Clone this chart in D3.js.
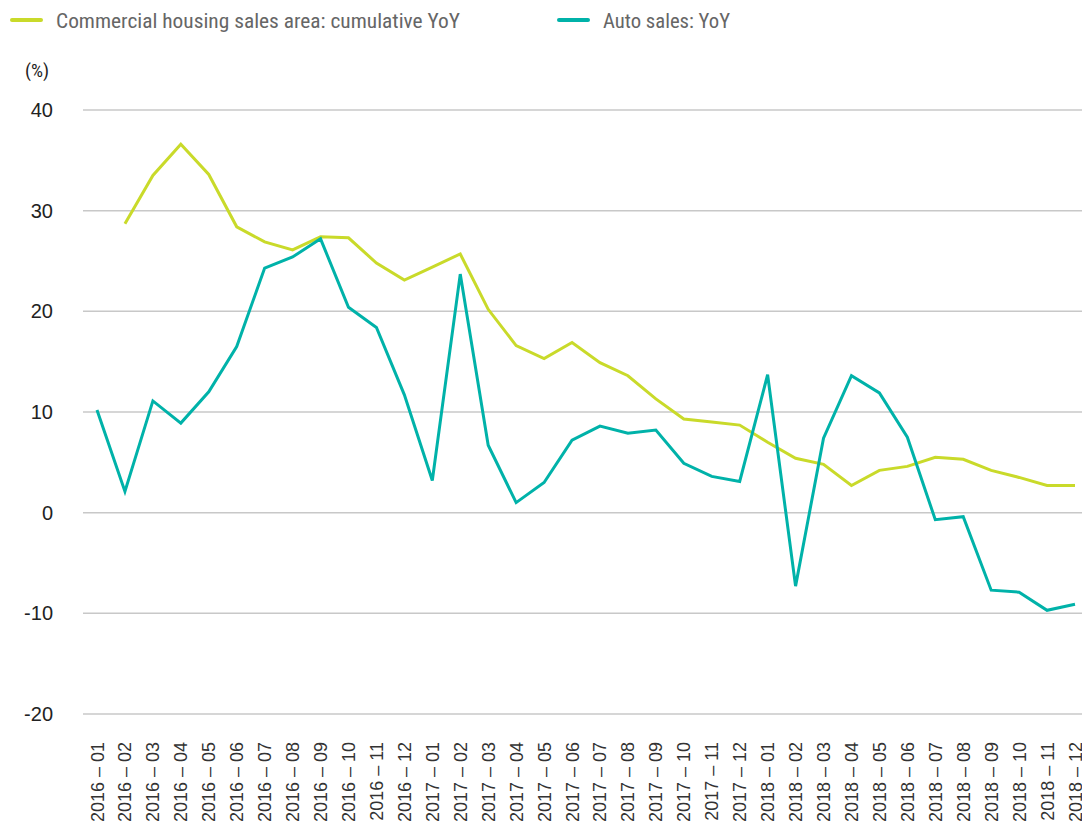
<!DOCTYPE html>
<html>
<head>
<meta charset="utf-8">
<script src="https://cdn.jsdelivr.net/npm/d3@7"></script>
<style>
  body { margin: 0; background: #fff; }
  svg { display: block; font-family: "Liberation Sans Narrow", "Roboto Condensed", "Liberation Sans", sans-serif; }
</style>
</head>
<body>
<svg id="chart" width="1082" height="824"></svg>
<script>
// months shown on the x axis
var months = [
  '2016 – 01','2016 – 02','2016 – 03','2016 – 04','2016 – 05','2016 – 06',
  '2016 – 07','2016 – 08','2016 – 09','2016 – 10','2016 – 11','2016 – 12',
  '2017 – 01','2017 – 02','2017 – 03','2017 – 04','2017 – 05','2017 – 06',
  '2017 – 07','2017 – 08','2017 – 09','2017 – 10','2017 – 11','2017 – 12',
  '2018 – 01','2018 – 02','2018 – 03','2018 – 04','2018 – 05','2018 – 06',
  '2018 – 07','2018 – 08','2018 – 09','2018 – 10','2018 – 11','2018 – 12'
];

// commercial housing sales area, cumulative YoY (%) - no value for Jan 2016
var housing = [
  null, 28.7, 33.5, 36.6, 33.6, 28.4, 26.9, 26.1, 27.4, 27.3, 24.8, 23.1,
  24.4, 25.7, 20.2, 16.6, 15.3, 16.9, 14.9, 13.6, 11.3, 9.3, 9.0, 8.7,
  7.0, 5.4, 4.8, 2.7, 4.2, 4.6, 5.5, 5.3, 4.2, 3.5, 2.7, 2.7
];

// auto sales, YoY (%)
var autoSales = [
  10.2, 2.1, 11.1, 8.9, 12.0, 16.5, 24.3, 25.4, 27.2, 20.4, 18.4, 11.7,
  3.2, 23.7, 6.7, 1.0, 3.0, 7.2, 8.6, 7.9, 8.2, 4.9, 3.6, 3.1,
  13.7, -7.3, 7.4, 13.6, 11.9, 7.5, -0.7, -0.4, -7.7, -7.9, -9.7, -9.1
];

var yTicks = [40, 30, 20, 10, 0, -10, -20];

var seriesNames = ['Commercial housing sales area: cumulative YoY', 'Auto sales: YoY'];
var seriesColors = ['#c9da2a', '#00b2a9'];

var svg = d3.select('#chart');

var x = d3.scalePoint()
  .domain(months)
  .range([97, 1075]);

var y = d3.scaleLinear()
  .domain([-20, 40])
  .range([714, 110]);

// gridlines
svg.append('g')
  .selectAll('line')
  .data(yTicks)
  .enter()
  .append('line')
  .attr('x1', 83)
  .attr('x2', 1082)
  .attr('y1', function(d) { return y(d); })
  .attr('y2', function(d) { return y(d); })
  .attr('stroke', '#c8c8c8')
  .attr('stroke-width', 1.5);

// y axis labels (plain hyphen for negatives, as in the source)
var yAxis = svg.append('g')
  .attr('transform', 'translate(53,0)')
  .call(d3.axisLeft(y).tickValues(yTicks).tickSize(0).tickPadding(0)
    .tickFormat(function(d) { return String(d); }));
yAxis.select('.domain').remove();
yAxis.selectAll('text')
  .attr('font-size', 20)
  .attr('fill', '#222')
  .style('font-family', 'inherit');

svg.append('text')
  .attr('x', 25)
  .attr('y', 77)
  .attr('font-size', 19)
  .attr('fill', '#222')
  .text('(%)');

// x axis labels, rotated
var xAxis = svg.append('g')
  .attr('transform', 'translate(0,740)')
  .call(d3.axisBottom(x).tickSize(0).tickPadding(0));
xAxis.select('.domain').remove();
xAxis.selectAll('text')
  .attr('font-size', 18)
  .attr('fill', '#333')
  .style('font-family', 'inherit')
  .attr('text-anchor', 'end')
  .attr('dy', null)
  .attr('y', 0)
  .attr('transform', 'rotate(-90) translate(-2,6)');

// lines
var line = d3.line()
  .defined(function(d) { return d != null; })
  .x(function(d, i) { return x(months[i]); })
  .y(function(d) { return y(d); });

[housing, autoSales].forEach(function(vals, k) {
  svg.append('path')
    .datum(vals)
    .attr('fill', 'none')
    .attr('stroke', seriesColors[k])
    .attr('stroke-width', 3)
    .attr('stroke-linejoin', 'miter')
    .attr('d', line);
});

// legend
var legendX = [10, 557];
var legendW = [404, 127];
var legend = svg.append('g')
  .selectAll('g')
  .data(seriesNames)
  .enter()
  .append('g')
  .attr('transform', function(d, i) { return 'translate(' + legendX[i] + ',20)'; });
legend.append('line')
  .attr('x1', 2).attr('x2', 31)
  .attr('stroke', function(d, i) { return seriesColors[i]; })
  .attr('stroke-width', 4)
  .attr('stroke-linecap', 'round');
legend.append('text')
  .attr('x', 46)
  .attr('y', 8)
  .attr('font-size', 21)
  .attr('fill', '#666')
  .attr('textLength', function(d, i) { return legendW[i]; })
  .attr('lengthAdjust', 'spacingAndGlyphs')
  .text(function(d) { return d; });
</script>
</body>
</html>
